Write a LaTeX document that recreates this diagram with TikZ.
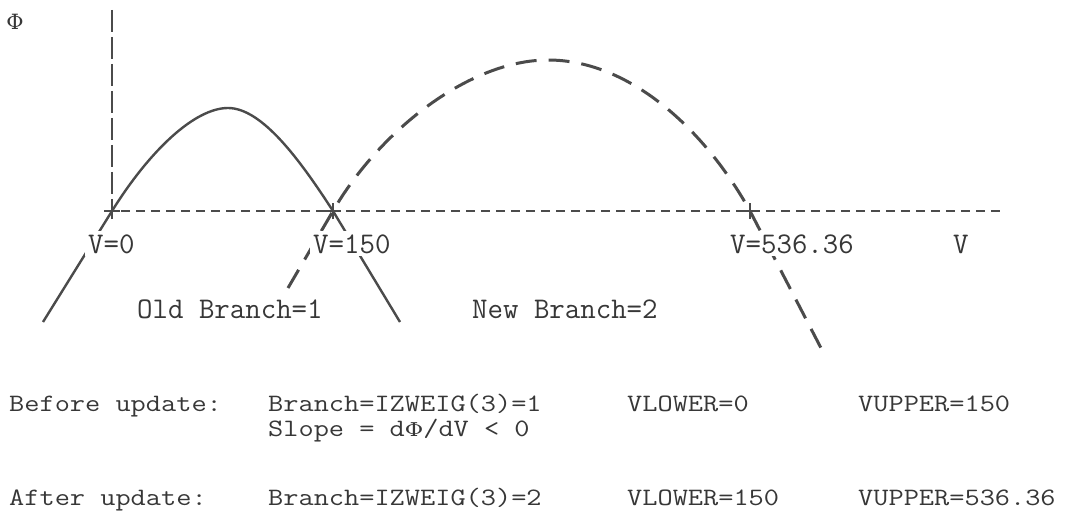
\documentclass[tikz,border=0pt]{standalone}
\usepackage{fontspec}
\usepackage{graphicx}
\newfontfamily\phifont{DejaVu Serif}
\definecolor{ink}{RGB}{75,75,75}
\definecolor{txt}{RGB}{55,55,55}
\newcommand\widetxt[1]{\scalebox{1.18}[1]{#1}}
\newcommand\phichar{{\phifont\fontsize{21}{25}\selectfont Φ}}
\tikzset{
  lbl/.style={anchor=base west,inner sep=0pt,text=txt,font=\fontsize{30}{36}\selectfont\ttfamily},
  btm/.style={anchor=base west,inner sep=0pt,text=txt,font=\fontsize{25}{30}\selectfont\ttfamily},
  cutlbl/.style={lbl,fill=white,inner xsep=3pt,inner ysep=3pt},
  vaxis/.style={draw=ink,line width=1.3pt,dash pattern=on 22pt off 5pt},
  haxis/.style={draw=ink,line width=2.6pt,dash pattern=on 9pt off 6pt},
  oldbr/.style={draw=ink,line width=2.4pt},
  newbr/.style={draw=ink,line width=3pt,dash pattern=on 21pt off 12pt},
  crossmark/.style={draw=ink,line width=1.4pt}
}
\begin{document}
\begin{tikzpicture}[x=1pt,y=-1pt]
\useasboundingbox[fill=white] (0,0) rectangle (1065,513);
% axes
\coordinate (ytop) at (112,10);
\coordinate (o) at (112,211);
\coordinate (xl) at (106,211);
\coordinate (xr) at (1000,211);
\coordinate (r1) at (333,211);
\coordinate (r2) at (750,211);
\draw[vaxis] (ytop) -- (o);
\draw[haxis] (xl) -- (xr);
% old branch (solid)
\coordinate (oa) at (43,322);
\coordinate (ob) at (400,322);
\coordinate (opk) at (228,108);
\draw[oldbr] (oa) -- (o) .. controls (150,150) and (195,108) .. (opk)
  .. controls (262,108) and (300,160) .. (r1) -- (ob);
% new branch (dashed)
\coordinate (na) at (288,288);
\coordinate (npk) at (548,60);
\coordinate (nb) at (822,350);
\draw[newbr] (na) -- (r1) .. controls (380,130) and (470,60) .. (npk)
  .. controls (630,60) and (705,130) .. (r2) -- (nb);
% crosses
\foreach \p in {o,r1,r2}{
  \draw[crossmark] ([yshift=-8pt]\p) -- ([yshift=8pt]\p);
  \draw[crossmark] ([xshift=-8pt]\p) -- ([xshift=8pt]\p);
}
% labels
\node[text=txt,inner sep=0pt] (phi) at (15,22) {\phichar};
\node[cutlbl] (v0) at (85,253) {V=0};
\node[cutlbl] (v150) at (310,253) {V=150};
\node[cutlbl] (v536) at (727,253) {V=536.36};
\node[lbl] (vv) at (953,253) {V};
\node[lbl] (old) at (137,318) {Old Branch=1};
\node[lbl] (new) at (472,318) {New Branch=2};
% bottom text
\node[btm] (bu) at (9,411) {\widetxt{Before update:}};
\node[btm] (bb) at (268,411) {\widetxt{Branch=IZWEIG(3)=1}};
\node[btm] (bl) at (627,411) {\widetxt{VLOWER=0}};
\node[btm] (bup) at (858,411) {\widetxt{VUPPER=150}};
\node[btm] (sl) at (268,436) {\widetxt{Slope = d{\phifont\fontsize{19}{23}\selectfont Φ}/dV < 0}};
\node[btm] (au) at (9,505) {\widetxt{After update:}};
\node[btm] (ab) at (268,505) {\widetxt{Branch=IZWEIG(3)=2}};
\node[btm] (al) at (627,505) {\widetxt{VLOWER=150}};
\node[btm] (aup) at (858,505) {\widetxt{VUPPER=536.36}};
\end{tikzpicture}
\end{document}
